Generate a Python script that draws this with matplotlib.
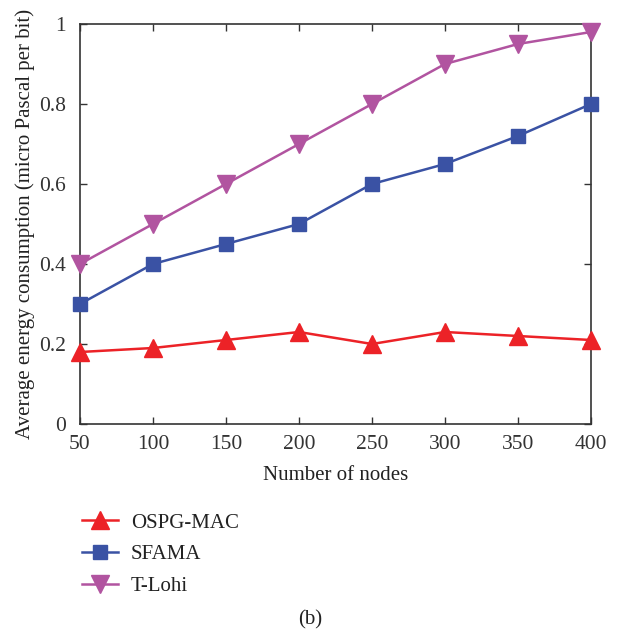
import matplotlib
matplotlib.use("Agg")
import matplotlib.pyplot as plt

# === DATA ===
nodes = [50, 100, 150, 200, 250, 300, 350, 400]
ospg_mac = [0.18, 0.19, 0.21, 0.23, 0.20, 0.23, 0.22, 0.21]
sfama = [0.30, 0.40, 0.45, 0.50, 0.60, 0.65, 0.72, 0.80]
t_lohi = [0.40, 0.50, 0.60, 0.70, 0.80, 0.90, 0.95, 0.98]
y_ticks = [0, 0.2, 0.4, 0.6, 0.8, 1]
y_tick_labels = ["0", "0.2", "0.4", "0.6", "0.8", "1"]

plt.rcParams["font.family"] = ["Liberation Serif", "DejaVu Serif"]
plt.rcParams["font.size"] = 15

fig = plt.figure(figsize=(6.19, 6.33), dpi=100)
ax = fig.add_axes([80 / 619, 1 - 424 / 633, 511 / 619, 400 / 633])

ax.plot(nodes, ospg_mac, color="#ec2227", marker="^", markersize=13, linewidth=1.8,
        label="OSPG-MAC", clip_on=False, zorder=3)
ax.plot(nodes, sfama, color="#3a52a4", marker="s", markersize=9.5, linewidth=1.8,
        label="SFAMA", clip_on=False, zorder=3)
ax.plot(nodes, t_lohi, color="#b154a0", marker="v", markersize=13, linewidth=1.8,
        label="T-Lohi", clip_on=False, zorder=3)

ax.set_xlim(50, 400)
ax.set_ylim(0, 1)
ax.set_xticks(nodes)
ax.set_yticks(y_ticks)
ax.set_yticklabels(y_tick_labels)
ax.tick_params(direction="in", top=True, right=True, length=5, width=1,
               color="#333333", labelsize=15.5, labelcolor="#333333")
ax.tick_params(axis="x", pad=8)
ax.tick_params(axis="y", pad=10)
for s in ax.spines.values():
    s.set_color("#333333")
    s.set_linewidth(1.2)

ax.set_xlabel("Number of nodes", color="#222222")
ax.set_ylabel("Average energy consumption (micro Pascal per bit)", color="#222222")
ax.xaxis.label.set_va("center")
ax.xaxis.set_label_coords(0.5, -52 / 400)
ax.yaxis.label.set_va("center")
ax.yaxis.set_label_coords(-55 / 511, 0.5)

fig.legend(loc="upper left", bbox_to_anchor=(82 / 619, 1 - 513 / 633),
           frameon=False, borderpad=0, borderaxespad=0, handlelength=1.75,
           handletextpad=0.6, labelspacing=0.58, fontsize=15, labelcolor="#222222")

fig.text(310 / 619, 1 - 620 / 633, "(b)", ha="center", va="center", fontsize=15,
         color="#222222")

fig.savefig("out.png", dpi=100)
